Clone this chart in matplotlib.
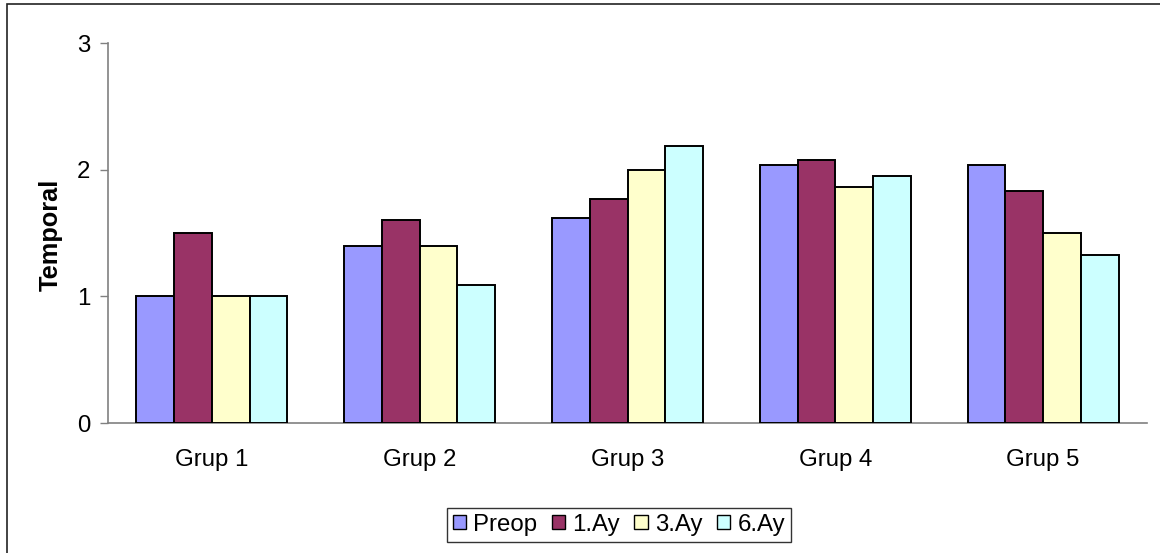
import numpy as np
import matplotlib
matplotlib.use('Agg')
from matplotlib import pyplot as plt
from matplotlib.patches import Rectangle

groups = ['Grup 1', 'Grup 2', 'Grup 3', 'Grup 4', 'Grup 5']
series = ['Preop', '1.Ay', '3.Ay', '6.Ay']
preop = [1.00, 1.40, 1.62, 2.04, 2.04]
ay1 = [1.50, 1.60, 1.77, 2.08, 1.83]
ay3 = [1.00, 1.40, 2.00, 1.86, 1.50]
ay6 = [1.00, 1.09, 2.19, 1.95, 1.33]
colors = ['#9999FF', '#993366', '#FFFFCC', '#CCFFFF']

plt.rcParams['font.family'] = ['Liberation Sans', 'DejaVu Sans']
plt.rcParams['font.size'] = 17.3


def main():
    fig, ax = fig_setup()
    x = np.arange(len(groups))
    w = 1 / 5.5
    for i, (vals, c, name) in enumerate(zip([preop, ay1, ay3, ay6], colors, series)):
        ax.bar(x + (i - 1.5) * w, vals, width=w, color=c, edgecolor='black',
               linewidth=1.4, label=name, zorder=3)
    ax.set_xticks(x)
    ax.set_xticklabels(groups)
    ax.set_xlim(-0.5, len(groups) - 0.5)

    leg = fig.legend(loc='center', bbox_to_anchor=(0.5336, 0.0515), ncol=4,
                     frameon=True, fancybox=False, handlelength=0.55,
                     handleheight=0.55, handletextpad=0.3, columnspacing=0.6,
                     borderpad=0.25, borderaxespad=0)
    leg.get_frame().set_edgecolor('black')
    leg.get_frame().set_linewidth(1.0)
    for h in leg.legend_handles:
        h.set_linewidth(1.0)

    # chart area border
    fig.patches.append(Rectangle((7 / 1160, -0.2), 1.2, 1.2 - 4 / 553,
                                 transform=fig.transFigure, fill=False,
                                 edgecolor='#222222', linewidth=1.2))
    fig.savefig('out.png', dpi=100)


def fig_setup():
    fig = plt.figure(figsize=(11.6, 5.53), dpi=100)
    ax = fig.add_axes([108 / 1160, 1 - 423 / 553, 1039 / 1160, 380 / 553])
    ax.set_ylim(0, 3)
    ax.set_yticks([0, 1, 2, 3])
    for s in ['top', 'right']:
        ax.spines[s].set_visible(False)
    for s in ['left', 'bottom']:
        ax.spines[s].set_color('#808080')
        ax.spines[s].set_linewidth(1.2)
    ax.tick_params(axis='y', length=5.8, width=1.0, color='#808080', pad=7)
    ax.tick_params(axis='x', length=0, pad=19)
    ax.set_ylabel('Temporal', fontweight='bold', va='center', fontsize=18.3)
    ax.yaxis.set_label_coords(-0.0548, 0.495)
    return fig, ax


main()
